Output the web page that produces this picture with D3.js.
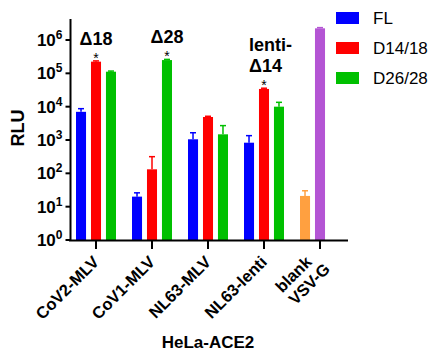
<!DOCTYPE html>
<html><head><meta charset="utf-8">
<script src="https://cdn.jsdelivr.net/npm/d3@7"></script>
<style>body{margin:0;background:#fff}svg{display:block}text{font-family:Arial,"Liberation Sans",sans-serif}</style>
</head><body>
<svg id="c" width="438" height="356"></svg>
<script>
const categories = ["CoV2-MLV","CoV1-MLV","NL63-MLV","NL63-lenti","blank|VSV-G"];
const seriesNames = ["FL","D14/18","D26/28"];
const seriesColors = ["#0000ff","#ff0000","#00c000"];
const flValues = [7000, 20, 1050, 830];
const flErrTop = [8700, 26, 1650, 1350];
const d14Values = [224000, 132, 4900, 34000];
const d14ErrTop = [236000, 316, 5150, 35800];
const d26Values = [112000, 250000, 1480, 10000];
const d26ErrTop = [117000, 262000, 2700, 13500];
const controlNames = ["blank","VSV-G"];
const controlValues = [21, 2240000];
const controlErrTop = [30, 2350000];
const controlColors = ["#ffa040","#b455d4"];
const yTickExps = [0,1,2,3,4,5,6];
const annotations = [
  {cat:0, slot:1, lines:["Δ18"]},
  {cat:1, slot:2, lines:["Δ28"]},
  {cat:3, slot:1, lines:["lenti-","Δ14"]}
];

const svg = d3.select("#c");
const x = d3.scaleBand().domain(categories).range([68,348]);
const slot = d3.scaleBand().domain([0,1,2]).range([-20,20]).paddingInner(0.33);
const y = d3.scaleLog().domain([1, Math.pow(10,6.6)]).range([240,20]);

const bars = [];
[flValues,d14Values,d26Values].forEach((vals,si)=>{
  const errs=[flErrTop,d14ErrTop,d26ErrTop][si];
  vals.forEach((v,ci)=>bars.push({cat:categories[ci],slot:si,v,e:errs[ci],color:seriesColors[si]}));
});
controlValues.forEach((v,i)=>bars.push({cat:categories[4],slot:i,v,e:controlErrTop[i],color:controlColors[i]}));

const cx = d=> x(d.cat)+x.bandwidth()/2 + slot(d.slot) + slot.bandwidth()/2;
const bw = slot.bandwidth();

const g = svg.append("g");
g.selectAll(".err").data(bars).join("g").each(function(d){
  const s=d3.select(this);
  s.append("line").attr("x1",cx(d)).attr("x2",cx(d)).attr("y1",y(d.v)).attr("y2",y(d.e)).attr("stroke",d.color).attr("stroke-width",1.5);
  s.append("line").attr("x1",cx(d)-3).attr("x2",cx(d)+3).attr("y1",y(d.e)).attr("y2",y(d.e)).attr("stroke",d.color).attr("stroke-width",1.5);
});
g.selectAll("rect.bar").data(bars).join("rect").attr("class","bar")
  .attr("x",d=>cx(d)-bw/2).attr("width",bw)
  .attr("y",d=>y(d.v)).attr("height",d=>240-y(d.v))
  .attr("fill",d=>d.color);

// y axis
const ya = svg.append("g").attr("transform","translate(70.5,0)");
ya.append("line").attr("x1",0).attr("x2",0).attr("y1",19).attr("y2",241).attr("stroke","#000").attr("stroke-width",2);
yTickExps.forEach(e=>{
  const yy=y(Math.pow(10,e));
  ya.append("line").attr("x1",-5).attr("x2",0).attr("y1",yy).attr("y2",yy).attr("stroke","#000").attr("stroke-width",2);
  const t=ya.append("text").attr("x",-8).attr("y",yy+6).attr("text-anchor","end").attr("font-weight","bold").attr("font-size",17);
  t.append("tspan").text("10");
  t.append("tspan").attr("dy",-7).attr("font-size",12).text(e);
});
svg.append("text").attr("transform","translate(24,128) rotate(-90)").attr("text-anchor","middle")
  .attr("font-weight","bold").attr("font-size",18).text("RLU");

// x axis
const xa = svg.append("g");
xa.append("line").attr("x1",69).attr("x2",348).attr("y1",240.5).attr("y2",240.5).attr("stroke","#000").attr("stroke-width",2);
categories.forEach((c,i)=>{
  let tx = x(c)+x.bandwidth()/2;
  xa.append("line").attr("x1",tx).attr("x2",tx).attr("y1",240).attr("y2",249).attr("stroke","#000").attr("stroke-width",2);
  const parts=c.split("|");
  const t=xa.append("text").attr("transform",`translate(${tx+4},${263}) rotate(-45)`).attr("text-anchor","end")
    .attr("font-weight","bold").attr("font-size",16.5);
  if(parts.length===1){ t.append("tspan").attr("x",0).attr("y",0).text(parts[0]); }
  else {
    t.append("tspan").attr("x",-8).attr("y",-8).text(parts[0]);
    t.append("tspan").attr("x",0).attr("y",10).text(parts[1]);
  }
});
svg.append("text").attr("x",208).attr("y",348).attr("text-anchor","middle").attr("font-weight","bold").attr("font-size",17).text("HeLa-ACE2");

// annotations
annotations.forEach(a=>{
  const d={cat:categories[a.cat],slot:a.slot};
  const bx=cx(d);
  const bar=bars.find(b=>b.cat===d.cat&&b.slot===d.slot);
  const topY=y(bar.v);
  svg.append("text").attr("x",bx).attr("y",topY+1).attr("text-anchor","middle").attr("font-size",14).text("*");
  const n=a.lines.length;
  a.lines.forEach((l,li)=>{
    const yy = topY-17-(n-1-li)*21;
    svg.append("text").attr("x", n>1? bx-15 : bx).attr("y",yy).attr("text-anchor", n>1?"start":"middle")
      .attr("font-weight","bold").attr("font-size",18).text(l);
  });
});

// legend
const lg = svg.append("g");
seriesNames.forEach((s,i)=>{
  const yy=12+i*30;
  lg.append("rect").attr("x",336).attr("y",yy).attr("width",23).attr("height",12).attr("fill",seriesColors[i]);
  lg.append("text").attr("x",373).attr("y",yy+12).attr("font-size",17).text(s);
});
</script>
</body></html>
